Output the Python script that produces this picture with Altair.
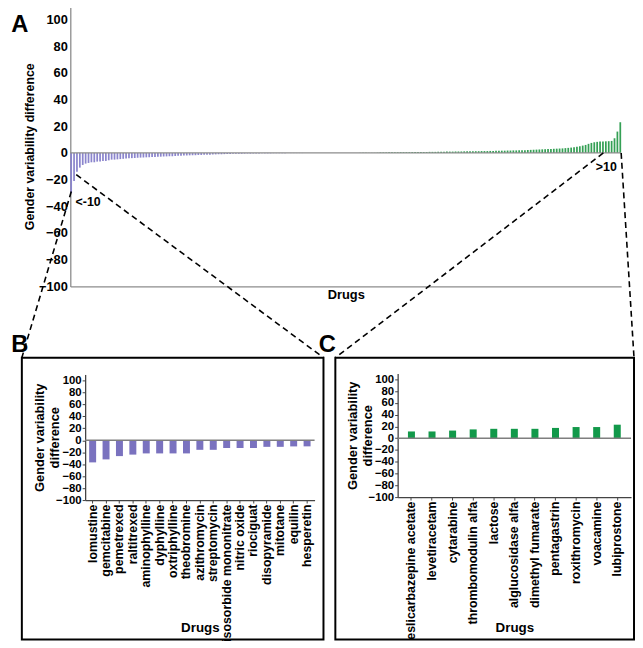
import altair as alt
import pandas as pd

# ---------------- data ----------------
# Panel A: sorted gender variability differences
a_neg_values = [-30, -21, -14, -11, -9, -8, -7.5, -7, -7, -6.5,
                -6.5, -6, -6, -5.5, -5, -5, -4.8, -4.6, -4.4, -4.2,
                -4, -3.9, -3.8, -3.6, -3.5, -3.4, -3.3, -3.2, -3.1, -3,
                -2.9, -2.8, -2.7, -2.6, -2.5, -2.4, -2.3, -2.2, -2.1, -2,
                -1.9, -1.8, -1.8, -1.7, -1.6, -1.5, -1.4, -1.3, -1.3, -1.2,
                -1.1, -1.0, -1.0, -0.9, -0.8, -0.8, -0.7, -0.7, -0.6, -0.6,
                -0.5, -0.5, -0.5, -0.4, -0.4, -0.4, -0.3, -0.3, -0.3, -0.3,
                -0.2, -0.2, -0.2, -0.2, -0.2, -0.1]
a_mid_values = [-0.1, -0.1, -0.1, -0.1, -0.1, 0, 0, 0, 0, 0,
                0, 0, 0, 0, 0, 0, 0, 0, 0, 0,
                0, 0, 0, 0, 0.1, 0.1, 0.1, 0.1, 0.1, 0.1, 0.2]
a_pos_values = [0.4, 0.4, 0.4, 0.5, 0.5, 0.5, 0.5, 0.6, 0.6, 0.6, 0.6, 0.7, 0.7, 0.7, 0.7, 0.7,
                0.7, 0.8, 0.8, 0.8, 0.9, 0.9, 0.9, 1.0, 1.0, 1.0, 1.1, 1.1, 1.1, 1.2, 1.2, 1.2,
                1.3, 1.3, 1.3, 1.4, 1.4, 1.4, 1.5, 1.5,
                1.6, 1.6, 1.7, 1.7, 1.8, 1.8, 1.9, 1.9, 2.0, 2.0, 2.1, 2.2, 2.3, 2.4,
                2.5, 2.6, 2.7, 2.8, 2.9, 3.0, 3.1, 3.2, 3.3, 3.4,
                3.6, 3.8, 4.0, 4.3, 4.6, 5.0, 5.5,
                6.0, 6.8, 7.5,
                8.0, 8.3, 8.5, 8.6, 8.7, 8.8, 9.0,
                11, 16, 23]

# Panel B: drugs with difference < -10
b_drugs = ["lomustine", "gemcitabine", "pemetrexed", "raltitrexed", "aminophylline",
           "dyphylline", "oxtriphylline", "theobromine", "azithromycin", "streptomycin",
           "isosorbide mononitrate", "nitric oxide", "riociguat", "disopyramide",
           "mitotane", "equilin", "hesperetin"]
b_values = [-37, -32, -26.5, -24, -22, -22, -22, -22, -16, -16,
            -13, -13, -13, -11, -11, -10.3, -10.2]

# Panel C: drugs with difference > 10
c_drugs = ["eslicarbazepine acetate", "levetiracetam", "cytarabine", "thrombomodulin alfa",
           "lactose", "alglucosidase alfa", "dimethyl fumarate", "pentagastrin",
           "roxithromycin", "voacamine", "lubiprostone"]
c_values = [11.5, 11.5, 13, 15, 16, 16, 16, 17.5, 19, 19, 23]

y_ticks = [-100, -80, -60, -40, -20, 0, 20, 40, 60, 80, 100]
y_domain = [-100, 110]

# ---------------- layout helpers (page pixel -> chart pixel) ----------------
W, H = 634, 637
FONT = "Liberation Sans"
NARROW = "Liberation Sans Narrow, Liberation Sans, Arial Narrow, sans-serif"


def fx(p):
    return p - 8


def fy(p):
    return p - 8


PURPLE_A = "#8b85cd"
GREEN_A = "#35a055"
PURPLE = "#7a72bf"
GREEN = "#12994a"

# ---------------- panel A ----------------
a_vals = a_neg_values + a_mid_values + a_pos_values
df_a = pd.DataFrame({"rank": list(range(len(a_vals))), "value": a_vals})

a_bars = alt.Chart(df_a).mark_bar().encode(
    x=alt.X("rank:O",
            scale=alt.Scale(range=[fx(71), fx(628)], paddingInner=0.4, paddingOuter=0),
            axis=alt.Axis(orient="bottom", offset=-(H - fy(286)), labels=False, ticks=False,
                          domainColor="#8c8c8c", domainWidth=1.3, title="Drugs",
                          titleFontSize=13, titlePadding=2, grid=False)),
    y=alt.Y("value:Q",
            scale=alt.Scale(domain=y_domain, range=[fy(286), fy(2.5)], nice=False, zero=False),
            axis=alt.Axis(orient="left", offset=-fx(71), values=y_ticks, ticks=False,
                          labelFontSize=13, labelPadding=3, domainColor="#8c8c8c",
                          domainWidth=1.3, title="Gender variability difference",
                          titleFontSize=12.5, titlePadding=2, minExtent=0, grid=False)),
    y2=alt.datum(0),
    color=alt.condition(alt.datum.value < 0, alt.value(PURPLE_A), alt.value(GREEN_A)),
)
a_zero = alt.Chart(pd.DataFrame({"zero": [0]})).mark_rule(color="#8c8c8c", strokeWidth=1.3).encode(
    y="zero:Q", x=alt.value(fx(71)), x2=alt.value(fx(628)))
panel_a = alt.layer(a_bars, a_zero)


# ---------------- panels B and C ----------------
def small_panel(drugs, values, color, x0, x1, ybot, ytop, pin, pout):
    df = pd.DataFrame({"drug": drugs, "value": values})
    bars = alt.Chart(df).mark_bar(color=color).encode(
        x=alt.X("drug:N", sort=drugs,
                scale=alt.Scale(range=[fx(x0), fx(x1)], paddingInner=pin, paddingOuter=pout),
                axis=alt.Axis(orient="bottom", offset=-(H - fy(ybot)), labelAngle=-90,
                              labelFont=NARROW, labelFontSize=12.5, labelPadding=1,
                              labelLimit=300, tickSize=3, tickColor="#444",
                              domainColor="#444", domainWidth=1.3, labelOverlap=False,
                              title="Drugs", titleFont=NARROW, titleFontSize=13.5,
                              titleY=fy(624) - fy(ybot), grid=False)),
        y=alt.Y("value:Q",
                scale=alt.Scale(domain=y_domain, range=[fy(ybot), fy(ytop)], nice=False, zero=False),
                axis=alt.Axis(orient="left", offset=-fx(x0), values=y_ticks, tickSize=3,
                              tickColor="#444", labelFont=NARROW, labelFontSize=11.5,
                              labelPadding=1, labelOverlap=False, domainColor="#444",
                              domainWidth=1.3,
                              title=["Gender variability", "difference"], titleFont=NARROW,
                              titleFontSize=13, titleLineHeight=15, titlePadding=-6,
                              minExtent=0, grid=False)),
        y2=alt.datum(0),
    )
    zero = alt.Chart(pd.DataFrame({"zero": [0]})).mark_rule(color="#7f7f7f", strokeWidth=1.5).encode(
        y="zero:Q", x=alt.value(fx(x0)), x2=alt.value(fx(x1)))
    return alt.layer(bars, zero)


# y positions: value -100 at ybot, value 110 at ytop
panel_b = small_panel(b_drugs, b_values, PURPLE, 86, 318, 502, 375, 0.48, 0.3)
panel_c = small_panel(c_drugs, c_values, GREEN, 402, 638, 499, 374, 0.66, 0.5)

# ---------------- annotations ----------------
ann = pd.DataFrame({"k": [0]})


def dashed(xa, ya, xb, yb):
    return alt.Chart(ann).mark_rule(color="black", strokeWidth=1.6, strokeDash=[6, 4]).encode(
        x=alt.value(fx(xa)), y=alt.value(fy(ya)), x2=alt.value(fx(xb)), y2=alt.value(fy(yb)))


def box(xa, ya, xb, yb):
    return alt.Chart(ann).mark_rect(filled=False, stroke="black", strokeWidth=2).encode(
        x=alt.value(fx(xa)), y=alt.value(fy(ya)), x2=alt.value(fx(xb)), y2=alt.value(fy(yb)))


def label(txt, xa, ya, size):
    return alt.Chart(ann).mark_text(text=txt, font=FONT, fontSize=size, fontWeight="bold",
                                    align="center", baseline="middle", color="black").encode(
        x=alt.value(fx(xa)), y=alt.value(fy(ya)))


annotations = [
    box(22, 358, 327, 643),
    box(339, 358, 641, 643),
    dashed(72, 190, 22, 358),
    dashed(77, 173, 327, 358),
    dashed(610, 151, 339, 358),
    dashed(628, 151, 641, 358),
    label("A", 20, 22, 24),
    label("B", 20, 345, 24),
    label("C", 331, 345, 24),
    label("<-10", 89, 201, 12.5),
    label(">10", 613, 165, 12.5),
]

chart = alt.layer(panel_a, panel_b, panel_c, *annotations).resolve_scale(
    x="independent", y="independent"
).properties(
    width=W, height=H, padding=0, autosize=alt.AutoSizeParams(type="none")
).configure_view(strokeWidth=0).configure_axis(
    labelFont=FONT, titleFont=FONT, labelFontWeight="bold", titleFontWeight="bold",
    labelColor="black", titleColor="black", grid=False
)

chart.save("out.html", embed_options={"renderer": "svg", "actions": False})
